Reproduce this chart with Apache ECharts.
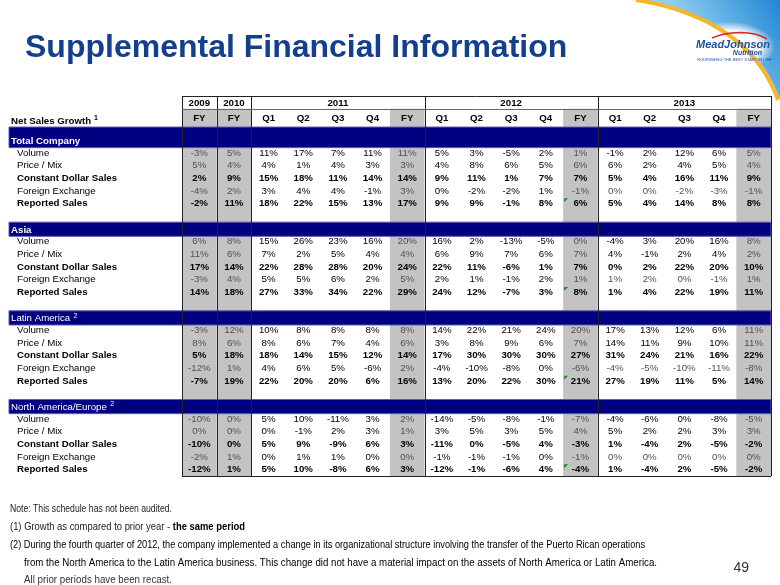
<!DOCTYPE html>
<html><head><meta charset="utf-8">
<script src="https://cdn.jsdelivr.net/npm/echarts@6/dist/echarts.min.js"></script>
<style>html,body{margin:0;padding:0;background:#fff}#chart{width:780px;height:585px}</style>
</head><body><div id="chart"></div>
<script>
// ---------- DATA ----------
const yearGroups = ['2009', '2010', '2011', '2012', '2013'];
const yearSpans = [1, 1, 5, 5, 5];
const periodLabels = ['FY', 'FY', 'Q1', 'Q2', 'Q3', 'Q4', 'FY', 'Q1', 'Q2', 'Q3', 'Q4', 'FY', 'Q1', 'Q2', 'Q3', 'Q4', 'FY'];
const rowLabels = ['Volume', 'Price / Mix', 'Constant Dollar Sales', 'Foreign Exchange', 'Reported Sales'];
const boldRows = ['Constant Dollar Sales', 'Reported Sales'];
const segments = ['Total Company', 'Asia', 'Latin America', 'North America/Europe'];
const segmentNotes = ['', '', '2', '2'];
const boldSegments = ['Total Company', 'Asia'];

const tcVolume = [-3, 5, 11, 17, 7, 11, 11, 5, 3, -5, 2, 1, -1, 2, 12, 6, 5];
const tcPriceMix = [5, 4, 4, 1, 4, 3, 3, 4, 8, 6, 5, 6, 6, 2, 4, 5, 4];
const tcConstantDollar = [2, 9, 15, 18, 11, 14, 14, 9, 11, 1, 7, 7, 5, 4, 16, 11, 9];
const tcForeignExchange = [-4, 2, 3, 4, 4, -1, 3, 0, -2, -2, 1, -1, 0, 0, -2, -3, -1];
const tcReported = [-2, 11, 18, 22, 15, 13, 17, 9, 9, -1, 8, 6, 5, 4, 14, 8, 8];

const asiaVolume = [6, 8, 15, 26, 23, 16, 20, 16, 2, -13, -5, 0, -4, 3, 20, 16, 8];
const asiaPriceMix = [11, 6, 7, 2, 5, 4, 4, 6, 9, 7, 6, 7, 4, -1, 2, 4, 2];
const asiaConstantDollar = [17, 14, 22, 28, 28, 20, 24, 22, 11, -6, 1, 7, 0, 2, 22, 20, 10];
const asiaForeignExchange = [-3, 4, 5, 5, 6, 2, 5, 2, 1, -1, 2, 1, 1, 2, 0, -1, 1];
const asiaReported = [14, 18, 27, 33, 34, 22, 29, 24, 12, -7, 3, 8, 1, 4, 22, 19, 11];

const laVolume = [-3, 12, 10, 8, 8, 8, 8, 14, 22, 21, 24, 20, 17, 13, 12, 6, 11];
const laPriceMix = [8, 6, 8, 6, 7, 4, 6, 3, 8, 9, 6, 7, 14, 11, 9, 10, 11];
const laConstantDollar = [5, 18, 18, 14, 15, 12, 14, 17, 30, 30, 30, 27, 31, 24, 21, 16, 22];
const laForeignExchange = [-12, 1, 4, 6, 5, -6, 2, -4, -10, -8, 0, -6, -4, -5, -10, -11, -8];
const laReported = [-7, 19, 22, 20, 20, 6, 16, 13, 20, 22, 30, 21, 27, 19, 11, 5, 14];

const naVolume = [-10, 0, 5, 10, -11, 3, 2, -14, -5, -8, -1, -7, -4, -6, 0, -8, -5];
const naPriceMix = [0, 0, 0, -1, 2, 3, 1, 3, 5, 3, 5, 4, 5, 2, 2, 3, 3];
const naConstantDollar = [-10, 0, 5, 9, -9, 6, 3, -11, 0, -5, 4, -3, 1, -4, 2, -5, -2];
const naForeignExchange = [-2, 1, 0, 1, 1, 0, 0, -1, -1, -1, 0, -1, 0, 0, 0, 0, 0];
const naReported = [-12, 1, 5, 10, -8, 6, 3, -12, -1, -6, 4, -4, 1, -4, 2, -5, -2];

const footnotes = [
  ['Note: This schedule has not been audited.'],
  ['(1) Growth as compared to prior year - ', 'the same period'],
  ['(2) During the fourth quarter of 2012, the company implemented a change in its organizational structure involving the transfer of the Puerto Rican operations'],
  ['from the North America to the Latin America business. This change did not have a material impact on the assets of North America or Latin America.'],
  ['All prior periods have been recast.']
];

// ---------- BUILD ----------
const segmentValues = [
  [tcVolume, tcPriceMix, tcConstantDollar, tcForeignExchange, tcReported],
  [asiaVolume, asiaPriceMix, asiaConstantDollar, asiaForeignExchange, asiaReported],
  [laVolume, laPriceMix, laConstantDollar, laForeignExchange, laReported],
  [naVolume, naPriceMix, naConstantDollar, naForeignExchange, naReported]
];
const colYear = [];
yearSpans.forEach((n, i) => { for (let k = 0; k < n; k++) colYear.push(yearGroups[i]); });
const columnKeys = periodLabels.map((p, i) => colYear[i] + ' ' + p);

const tableRows = ['years', 'periods', 'gap'];
const bandData = [], labelData = [], cellData = [];
segments.forEach((seg, si) => {
  if (si > 0) tableRows.push('spacer ' + si);
  bandData.push([0, tableRows.length, si]);
  tableRows.push('band ' + seg);
  rowLabels.forEach((lab, li) => {
    const r = tableRows.length;
    tableRows.push(seg + ' | ' + lab);
    labelData.push([0, r, li]);
    segmentValues[si][li].forEach((v, c) => cellData.push([c, r, v, li]));
  });
});
const yearData = [];
let startCol = 0;
yearSpans.forEach((n, i) => { yearData.push([startCol, 0, i, n]); startCol += n; });
const periodData = periodLabels.map((p, c) => [c, 1]);
const fyData = periodLabels.map((p, c) => [c, 1]).filter(d => periodLabels[d[0]] === 'FY');
const ruleData = [];
startCol = 0;
yearSpans.forEach(n => { ruleData.push([startCol, 0, 0]); startCol += n; });
ruleData.push([periodLabels.length - 1, 0, 1]);

// ---------- LAYOUT / STYLE ----------
const FONT = '"Liberation Sans", Arial, Helvetica, sans-serif';
const FS = 9.7;
const NAVY = '#000080';
const LABEL_LEFT = 173;
const ROWLABEL_LEFT = 165;
const PERIOD_SPAN = 1.45;

function cellW(api) { return api.size([1, 1])[0]; }
function cellH(api) { return api.size([1, 1])[1]; }

function renderShade(params, api) {
  const c = api.value(0);
  const cs = params.coordSys;
  const p = api.coord([c, 1]);
  const w = cellW(api), h = cellH(api);
  const y = p[1] - h / 2;
  return { type: 'rect', shape: { x: p[0] - w / 2, y: y, width: w, height: cs.y + cs.height - y },
    style: { fill: '#c3c3c3' } };
}

function renderBand(params, api) {
  const r = api.value(1), si = api.value(2);
  const cs = params.coordSys;
  const p = api.coord([0, r]);
  const h = cellH(api);
  let top = p[1] - h / 2 - 0.5;
  const bottom = p[1] + h / 2 + 1;
  if (si === 0) top = api.coord([0, 1])[1] - h / 2 + h * PERIOD_SPAN;
  const left = cs.x - LABEL_LEFT;
  const name = segments[si];
  const note = segmentNotes[si];
  return { type: 'group', children: [
    { type: 'rect', shape: { x: left, y: top, width: cs.x + cs.width - left, height: bottom - top },
      style: { fill: NAVY, stroke: '#5b5bb5', lineWidth: 1 } },
    { type: 'text', x: left + 2, y: p[1] + 1,
      style: { text: '{t|' + name + '}' + (note ? ' {s|' + note + '}' : ''),
        rich: { t: { fontFamily: FONT, fontSize: FS, fontWeight: boldSegments.includes(name) ? 'bold' : 'normal', fill: '#fff' },
                s: { fontFamily: FONT, fontSize: 7, fill: '#fff', padding: [0, 0, 6, 0] } },
        align: 'left', verticalAlign: 'middle' } }
  ] };
}

function renderRowLabel(params, api) {
  const r = api.value(1), li = api.value(2);
  const cs = params.coordSys;
  const p = api.coord([0, r]);
  const lab = rowLabels[li];
  return { type: 'text', x: cs.x - ROWLABEL_LEFT, y: p[1],
    style: { text: lab, fontFamily: FONT, fontSize: FS, fontWeight: boldRows.includes(lab) ? 'bold' : 'normal',
      fill: '#000', align: 'left', verticalAlign: 'middle' } };
}

function renderCell(params, api) {
  const c = api.value(0), r = api.value(1), v = api.value(2), li = api.value(3);
  const p = api.coord([c, r]);
  const w = cellW(api), h = cellH(api);
  const lab = rowLabels[li];
  const bold = boldRows.includes(lab);
  const isFY = periodLabels[c] === 'FY';
  const muted = !bold && (isFY || (lab === 'Foreign Exchange' && colYear[c] === '2013'));
  const children = [{ type: 'text', x: p[0], y: p[1],
    style: { text: v + '%', fontFamily: FONT, fontSize: FS, fontWeight: bold ? 'bold' : 'normal',
      fill: muted ? '#505050' : '#000', align: 'center', verticalAlign: 'middle' } }];
  if (lab === 'Reported Sales' && colYear[c] === '2012' && isFY) {
    const l = p[0] - w / 2 + 1, t = p[1] - h / 2 + 1;
    children.push({ type: 'polygon', shape: { points: [[l, t], [l + 4, t], [l, t + 4]] }, style: { fill: '#1c8c1c' } });
  }
  return { type: 'group', children };
}

function renderYear(params, api) {
  const c = api.value(0), yi = api.value(2), n = api.value(3);
  const a = api.coord([c, 0]), b = api.coord([c + n - 1, 0]);
  return { type: 'text', x: (a[0] + b[0]) / 2, y: a[1] + 0.5,
    style: { text: yearGroups[yi], fontFamily: FONT, fontSize: FS, fontWeight: 'bold', fill: '#000',
      align: 'center', verticalAlign: 'middle' } };
}

function renderPeriod(params, api) {
  const c = api.value(0);
  const p = api.coord([c, 1]);
  const h = cellH(api);
  const top = p[1] - h / 2;
  const children = [{ type: 'text', x: p[0], y: top + h * PERIOD_SPAN / 2,
    style: { text: periodLabels[c], fontFamily: FONT, fontSize: FS, fontWeight: 'bold', fill: '#000',
      align: 'center', verticalAlign: 'middle' } }];
  if (c === 0) {
    const cs = params.coordSys;
    children.push({ type: 'text', x: cs.x - LABEL_LEFT + 2, y: top + h * PERIOD_SPAN / 2 + 3,
      style: { text: '{b|Net Sales Growth }{s|1}',
        rich: { b: { fontFamily: FONT, fontSize: FS, fontWeight: 'bold', fill: '#000' },
                s: { fontFamily: FONT, fontSize: 7, fontWeight: 'bold', fill: '#000', padding: [0, 0, 6, 0] } },
        align: 'left', verticalAlign: 'middle' } });
  }
  return { type: 'group', children };
}

function renderRule(params, api) {
  const c = api.value(0), side = api.value(2);
  const cs = params.coordSys;
  const w = cellW(api);
  const x = Math.round(api.coord([c, 0])[0] + (side ? w / 2 : -w / 2)) + 0.5;
  return { type: 'line', shape: { x1: x, y1: cs.y, x2: x, y2: cs.y + cs.height },
    style: { stroke: '#222', lineWidth: 1 } };
}

function renderFrame(params, api) {
  const cs = params.coordSys;
  const h = cellH(api);
  const y0 = Math.round(cs.y) + 0.5;
  const y1 = Math.round(cs.y + h) + 0.5;
  const y2 = Math.round(cs.y + cs.height) + 0.5;
  return { type: 'group', children: [
    { type: 'line', shape: { x1: cs.x, y1: y0, x2: cs.x + cs.width, y2: y0 }, style: { stroke: '#222', lineWidth: 1 } },
    { type: 'line', shape: { x1: cs.x, y1: y1, x2: cs.x + cs.width, y2: y1 }, style: { stroke: '#666', lineWidth: 1 } },
    { type: 'line', shape: { x1: cs.x, y1: y2, x2: cs.x + cs.width, y2: y2 }, style: { stroke: '#222', lineWidth: 1 } }
  ] };
}

// decorative logo swoosh: sample a cubic curve into polygon points
function cubicPoints(p0, p1, p2, p3, n) {
  const pts = [];
  for (let i = 0; i <= n; i++) {
    const t = i / n, u = 1 - t;
    pts.push([u*u*u*p0[0] + 3*u*u*t*p1[0] + 3*u*t*t*p2[0] + t*t*t*p3[0],
              u*u*u*p0[1] + 3*u*u*t*p1[1] + 3*u*t*t*p2[1] + t*t*t*p3[1]]);
  }
  return pts;
}
const swoosh = cubicPoints([632, 0], [700, 8], [760, 40], [780, 100], 30);

// footnotes: condensed (Arial Narrow look) via horizontal scaling fitted to the slide's line lengths
const FOOT_SIZE = 11;
const footY = [509, 527, 545, 563, 580];
const footX = [10, 10, 10, 24, 24];
const footRight = [172, 245, 645, 657, 172];
const footColor = ['#222', '#222', '#000', '#000', '#333'];
const mctx = document.createElement('canvas').getContext('2d');
function textWidth(t, bold) {
  mctx.font = (bold ? 'bold ' : '') + FOOT_SIZE + 'px "Liberation Sans"';
  return mctx.measureText(t).width;
}

const graphics = [
  { type: 'polygon', shape: { points: swoosh.concat([[780, 0]]) },
    style: { fill: { type: 'linear', x: 0, y: 1, x2: 1, y2: 0, colorStops: [
      { offset: 0, color: '#d8eefa' }, { offset: 0.5, color: '#8ccbf0' }, { offset: 1, color: '#1f86d4' }] } } },
  { type: 'circle', x: 729, y: 47, scaleY: 0.55, shape: { cx: 0, cy: 0, r: 46 },
    style: { fill: { type: 'radial', x: 0.5, y: 0.5, r: 0.5, colorStops: [
      { offset: 0, color: 'rgba(255,255,255,1)' }, { offset: 0.65, color: 'rgba(255,255,255,0.95)' }, { offset: 1, color: 'rgba(255,255,255,0)' }] } } },
  { type: 'polyline', shape: { points: cubicPoints([636, 0], [702, 10], [758, 42], [778, 100], 30) },
    style: { fill: null, stroke: '#f6b62a', lineWidth: 4 } },
  { type: 'polyline', shape: { points: cubicPoints([712, 38], [728, 31], [752, 30], [767, 39], 12) },
    style: { fill: null, stroke: '#d3242b', lineWidth: 1.5 } },
  { type: 'text', x: 696, y: 45, style: { text: 'MeadJohnson', fontFamily: FONT, fontSize: 11, fontStyle: 'italic', fontWeight: 'bold', fill: '#1d4f9f', align: 'left', verticalAlign: 'middle' } },
  { type: 'text', x: 762, y: 53.5, style: { text: 'Nutrition', fontFamily: FONT, fontSize: 7, fontStyle: 'italic', fontWeight: 'bold', fill: '#1d4f9f', align: 'right', verticalAlign: 'middle' } },
  { type: 'text', x: 697, y: 59.5, style: { text: 'NOURISHING THE BEST START IN LIFE', fontFamily: FONT, fontSize: 4, fill: '#1d4f9f', align: 'left', verticalAlign: 'middle' } },
  { type: 'text', x: 25, y: 48, style: { text: 'Supplemental Financial Information', fontFamily: FONT, fontSize: 32, fontWeight: 'bold', fill: '#133f8d', align: 'left', verticalAlign: 'middle' } },
  { type: 'text', x: 749, y: 568, style: { text: '49', fontFamily: FONT, fontSize: 14, fill: '#333', align: 'right', verticalAlign: 'middle' } }
];
footnotes.forEach((parts, i) => {
  let w = textWidth(parts[0], false);
  let text = parts[0];
  if (parts.length > 1) { w += textWidth(parts[1], true); text = parts[0] + '{b|' + parts[1] + '}'; }
  const sx = (footRight[i] - footX[i]) / w;
  graphics.push({ type: 'text', x: footX[i], y: footY[i], scaleX: sx, style: {
    text: text, align: 'left', verticalAlign: 'middle',
    fontFamily: FONT, fontSize: FOOT_SIZE, fill: footColor[i],
    rich: { b: { fontFamily: FONT, fontSize: FOOT_SIZE, fontWeight: 'bold', fill: '#000' } } } });
});

const chart = echarts.init(document.getElementById('chart'), null, { renderer: 'canvas' });
chart.setOption({
  animation: false,
  backgroundColor: '#fff',
  grid: { left: 182, right: 9, top: 96, bottom: 109 },
  xAxis: { type: 'category', data: columnKeys, show: false, boundaryGap: true },
  yAxis: { type: 'category', data: tableRows, inverse: true, show: false, boundaryGap: true },
  graphic: { elements: graphics },
  series: [
    { type: 'custom', name: 'shade', renderItem: renderShade, data: fyData, z: 1, clip: false, silent: true },
    { type: 'custom', name: 'bands', renderItem: renderBand, data: bandData, z: 2, clip: false, silent: true },
    { type: 'custom', name: 'rules', renderItem: renderRule, data: ruleData, z: 3, clip: false, silent: true },
    { type: 'custom', name: 'frame', renderItem: renderFrame, data: [[0, 0]], z: 3, clip: false, silent: true },
    { type: 'custom', name: 'years', renderItem: renderYear, data: yearData, z: 4, clip: false, silent: true },
    { type: 'custom', name: 'periods', renderItem: renderPeriod, data: periodData, z: 4, clip: false, silent: true },
    { type: 'custom', name: 'rowLabels', renderItem: renderRowLabel, data: labelData, z: 4, clip: false, silent: true },
    { type: 'custom', name: 'cells', renderItem: renderCell, data: cellData, z: 4, clip: false, silent: true }
  ]
});
</script>
</body></html>
